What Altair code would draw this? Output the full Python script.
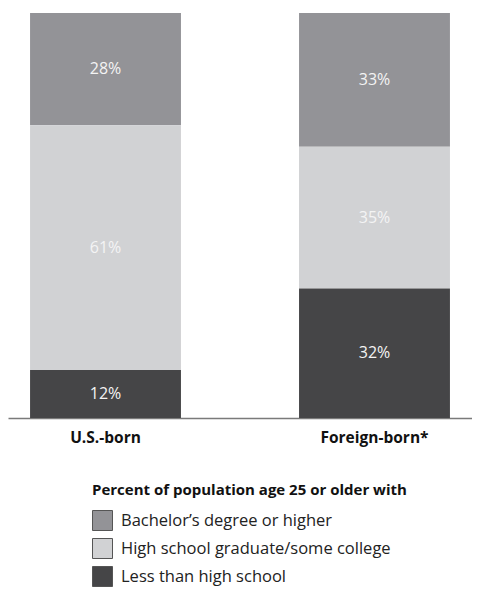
import altair as alt
import pandas as pd

groups = ["U.S.-born", "Foreign-born*"]
categories = ["Bachelor\u2019s degree or higher", "High school graduate/some college", "Less than high school"]
stack_rank = [2, 1, 0]
us_values = [28, 61, 12]
foreign_values = [33, 35, 32]
colors = ["#939397", "#d1d2d4", "#454547"]

rows = []
for g, vals in zip(groups, [us_values, foreign_values]):
    for c, r, v in zip(categories, stack_rank, vals):
        rows.append({"group": g, "category": c, "rank": r, "value": v, "label": f"{v}%"})
df = pd.DataFrame(rows)

FONT = "Open Sans"

x = alt.X(
    "group:N",
    sort=groups,
    scale=alt.Scale(paddingInner=0.439, paddingOuter=0.082, align=0.5),
    axis=alt.Axis(
        title=None, labelAngle=0, ticks=False, domainColor="#7a7a7a", domainWidth=1.5,
        labelFont=FONT, labelFontSize=15.5, labelFontWeight="bold", labelColor="#111",
        labelPadding=12, labelLimit=300,
    ),
)

bars = alt.Chart(df).mark_bar().encode(
    x=x,
    y=alt.Y("value:Q", stack="normalize", axis=None),
    color=alt.Color(
        "category:N",
        scale=alt.Scale(domain=categories, range=colors),
        legend=alt.Legend(
            title="Percent of population age 25 or older with",
            orient="none", legendX=84, legendY=470,
            symbolType="square", symbolSize=400, symbolStrokeColor="#555",
            symbolStrokeWidth=1, symbolOpacity=1,
            labelFont=FONT, labelFontSize=16.5, labelColor="#222", labelOffset=8,
            labelLimit=400,
            titleFont=FONT, titleFontSize=15, titleFontWeight="bold", titleColor="#111",
            titleLimit=400, titlePadding=12, rowPadding=3,
        ),
    ),
    order=alt.Order("rank:Q", sort="ascending"),
)

texts = alt.Chart(df).transform_stack(
    stack="value", groupby=["group"], as_=["y0", "y1"],
    sort=[alt.SortField("rank", order="ascending")], offset="normalize",
).transform_calculate(
    mid="(datum.y0 + datum.y1) / 2"
).mark_text(font=FONT, fontSize=16, color="#f4f4f4", baseline="middle").encode(
    x=alt.X("group:N", sort=groups),
    y=alt.Y("mid:Q", axis=None),
    text="label:N",
)

chart = alt.layer(bars, texts).properties(
    width=464, height=405,
    padding={"left": 0, "top": 5, "right": 0, "bottom": 0},
).configure_view(stroke=None)

chart.save("out.html", embed_options={"renderer": "svg", "actions": False})
